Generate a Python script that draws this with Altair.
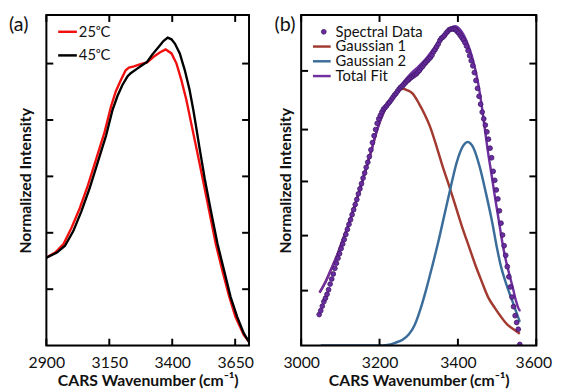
import altair as alt
import pandas as pd

# ---------------- Panel (a) data ----------------
A_WN_25 = [2900, 2935, 2968, 3000, 3033, 3065, 3098, 3131, 3157, 3176, 3196, 3215, 3228, 3248,
           3274, 3300, 3326, 3352, 3374, 3397, 3417, 3436, 3456, 3476, 3498, 3521, 3547, 3573,
           3599, 3625, 3651, 3684, 3704]
A_INT_25 = [1.56, 1.65, 1.80, 2.09, 2.44, 2.84, 3.31, 3.78, 4.24, 4.51, 4.71, 4.88, 4.93, 4.95,
            4.99, 5.02, 5.12, 5.20, 5.25, 5.18, 5.00, 4.71, 4.36, 3.93, 3.46, 2.96, 2.38, 1.80,
            1.33, 0.89, 0.51, 0.19, 0.07]
A_WN_45 = [2900, 2942, 2974, 3007, 3039, 3072, 3104, 3137, 3163, 3182, 3202, 3222, 3235, 3261,
           3280, 3300, 3319, 3345, 3365, 3382, 3397, 3411, 3430, 3450, 3469, 3484, 3496, 3507,
           3529, 3554, 3580, 3606, 3632, 3658, 3684, 3704]
A_INT_45 = [1.56, 1.65, 1.77, 2.03, 2.38, 2.79, 3.25, 3.72, 4.18, 4.42, 4.62, 4.77, 4.83, 4.91,
            4.97, 5.03, 5.15, 5.29, 5.40, 5.46, 5.43, 5.35, 5.18, 4.88, 4.53, 4.17, 3.85, 3.54,
            2.96, 2.38, 1.80, 1.33, 0.86, 0.51, 0.22, 0.07]
A_XTICKS = [2900, 3150, 3400, 3650]
A_XDOMAIN = [2900, 3705]
A_LEGEND = ["25ᵒC", "45ᵒC"]

# ---------------- Panel (b) data ----------------
B_DOT_WN = list(range(3046, 3559, 4))
B_DOT_INT = [0.55, 0.62, 0.70, 0.78, 0.84, 0.91, 0.99, 1.09, 1.18, 1.27,
             1.37, 1.46, 1.55, 1.63, 1.72, 1.80, 1.88, 1.97, 2.06, 2.15,
             2.23, 2.32, 2.41, 2.50, 2.59, 2.69, 2.78, 2.87, 2.97, 3.06,
             3.16, 3.25, 3.35, 3.47, 3.60, 3.72, 3.83, 3.94, 4.02, 4.08,
             4.14, 4.19, 4.22, 4.25, 4.29, 4.32, 4.36, 4.40, 4.44, 4.47,
             4.51, 4.55, 4.58, 4.60, 4.63, 4.66, 4.69, 4.71, 4.74, 4.76,
             4.78, 4.80, 4.82, 4.85, 4.88, 4.92, 4.95, 4.99, 5.02, 5.05,
             5.08, 5.11, 5.15, 5.21, 5.25, 5.30, 5.35, 5.41, 5.45, 5.47,
             5.50, 5.54, 5.57, 5.60, 5.61, 5.62, 5.61, 5.60, 5.57, 5.54,
             5.50, 5.46, 5.42, 5.37, 5.31, 5.23, 5.14, 5.05, 4.96, 4.84,
             4.70, 4.56, 4.42, 4.28, 4.14, 4.02, 3.91, 3.79, 3.66, 3.50,
             3.33, 3.09, 2.93, 2.76, 2.60, 2.39, 2.17, 1.96, 1.77, 1.60,
             1.40, 1.22, 1.04, 0.86, 0.69, 0.53, 0.41, 0.29, 0.02]
B_FIT_WN = [3047, 3060, 3075, 3090, 3105, 3120, 3135, 3150, 3165, 3180, 3195, 3210, 3225, 3240,
            3260, 3280, 3300, 3320, 3340, 3360, 3375, 3385, 3393, 3406, 3422, 3439, 3452, 3460,
            3469, 3477, 3485, 3494, 3502, 3510, 3519, 3531, 3540, 3548, 3557, 3560]
B_FIT_INT = [0.94, 1.10, 1.33, 1.57, 1.85, 2.13, 2.44, 2.77, 3.12, 3.48, 3.85, 4.13, 4.33, 4.47,
             4.66, 4.82, 4.95, 5.10, 5.28, 5.47, 5.58, 5.64, 5.66, 5.60, 5.40, 5.05, 4.64, 4.29,
             3.83, 3.42, 3.07, 2.66, 2.32, 1.97, 1.62, 1.27, 1.03, 0.80, 0.63, 0.62]
B_G1_WN = [3047, 3060, 3075, 3090, 3105, 3120, 3135, 3150, 3165, 3180, 3195, 3210, 3225, 3240,
           3250, 3259, 3270, 3284, 3300, 3315, 3330, 3345, 3360, 3380, 3395, 3410, 3430, 3445,
           3460, 3477, 3495, 3510, 3525, 3544, 3558]
B_G1_INT = [0.94, 1.10, 1.33, 1.57, 1.85, 2.13, 2.44, 2.77, 3.12, 3.48, 3.85, 4.13, 4.31, 4.45,
            4.52, 4.555, 4.53, 4.47, 4.30, 4.10, 3.86, 3.54, 3.20, 2.78, 2.45, 2.12, 1.72, 1.42,
            1.15, 0.86, 0.66, 0.51, 0.38, 0.28, 0.21]
B_G2_WN = [3050, 3100, 3150, 3200, 3220, 3240, 3260, 3275, 3290, 3305, 3320, 3335, 3350, 3365,
           3380, 3397, 3410, 3425, 3440, 3456, 3472, 3488, 3500, 3510, 3522, 3540, 3558]
B_G2_INT = [0.0, 0.0, 0.0, 0.0, 0.01, 0.05, 0.11, 0.20, 0.37, 0.66, 1.02, 1.42, 1.84, 2.30,
            2.76, 3.25, 3.50, 3.61, 3.50, 3.16, 2.69, 2.17, 1.72, 1.40, 1.12, 0.77, 0.42]
B_XTICKS = [3000, 3200, 3400, 3600]
B_XDOMAIN = [3000, 3600]
B_LEGEND = ["Spectral Data", "Gaussian 1", "Gaussian 2", "Total Fit"]

Y_TICKS = [1, 2, 3, 4, 5]
B_LEFT_YTICKS = [0.975, 1.95, 2.91, 3.83, 4.87]
Y_DOMAIN = [0, 5.86]

FONT = "Lato"
TXT = "#111111"
RED = "#f01010"
BROWN = "#a23a30"
BLUE = "#3b6d9a"
PURPLE = "#7030a0"
DOT_FILL = "#6a2ca0"
DOT_STROKE = "#3e1766"

H = 336
WA = 206
WB = 239
TL = 7  # tick length


def xaxis(values, offset_expr=None):
    kw = {}
    if offset_expr is not None:
        kw["labelOffset"] = {"expr": offset_expr}
    return alt.Axis(values=values, labelFlush=False, ticks=False, domain=False, grid=False,
                    labelFont=FONT, labelFontSize=16, labelColor=TXT, labelPadding=9,
                    title="CARS Wavenumber (cm⁻¹)", titleFont=FONT, titleFontSize=16,
                    titleFontWeight="bold", titleColor=TXT, titlePadding=3, format="d", **kw)


def yaxis(pad):
    return alt.Axis(labels=False, ticks=False, domain=False, grid=False,
                    title="Normalized Intensity", titleFont=FONT, titleFontSize=16,
                    titleFontWeight="bold", titleColor=TXT, titlePadding=pad)


def build_panel(series, xticks, left_y, right_y, xscale, yscale, width, ypad, legend, label,
                label_x, offset_expr=None):
    ax = xaxis(xticks, offset_expr)
    ay = yaxis(ypad)
    X = lambda f: alt.X(f, scale=xscale, axis=ax)
    Y = lambda f: alt.Y(f, scale=yscale, axis=ay)
    layers = []
    for kind, df, style in series:
        if kind == "line":
            m = alt.Chart(df).mark_line(clip=True, **style)
        else:
            m = alt.Chart(df).mark_circle(clip=True, opacity=1, **style)
        layers.append(m.encode(x=X("wn:Q"), y=Y("val:Q")))
    # frame
    frame_df = pd.DataFrame({"k": [0]})
    layers.append(alt.Chart(frame_df).mark_rect(fill=None, stroke="black", strokeWidth=2).encode(
        x=alt.value(0), x2=alt.value(width), y=alt.value(0), y2=alt.value(H)))
    # inward ticks
    dfx = pd.DataFrame({"v": xticks})
    dyl = pd.DataFrame({"v": left_y})
    dyr = pd.DataFrame({"v": right_y})
    sty = dict(color="black", strokeWidth=2)
    layers.append(alt.Chart(dfx).mark_rule(**sty).encode(x=X("v:Q"), y=alt.value(H - TL), y2=alt.value(H)))
    layers.append(alt.Chart(dfx).mark_rule(**sty).encode(x=X("v:Q"), y=alt.value(0), y2=alt.value(TL)))
    layers.append(alt.Chart(dyl).mark_rule(**sty).encode(y=Y("v:Q"), x=alt.value(0), x2=alt.value(TL)))
    layers.append(alt.Chart(dyr).mark_rule(**sty).encode(y=Y("v:Q"), x=alt.value(width - TL), x2=alt.value(width)))
    # legend
    for kind, text, color, y, x0, x1, xt in legend:
        ldf = pd.DataFrame({"label": [text]})
        if kind == "line":
            layers.append(alt.Chart(ldf).mark_rule(color=color, strokeWidth=2.5).encode(
                x=alt.value(x0), x2=alt.value(x1), y=alt.value(y)))
        else:
            layers.append(alt.Chart(ldf).mark_circle(size=24, color=DOT_FILL, stroke=DOT_STROKE,
                                                     strokeWidth=0.8, opacity=1).encode(
                x=alt.value(x0), y=alt.value(y)))
        layers.append(alt.Chart(ldf).mark_text(align="left", baseline="middle", font=FONT, fontSize=15,
                                               color=TXT).encode(text="label:N", x=alt.value(xt), y=alt.value(y)))
    ldf = pd.DataFrame({"label": [label]})
    layers.append(alt.Chart(ldf).mark_text(align="left", baseline="middle", font=FONT, fontSize=20,
                                           color=TXT).encode(text="label:N", x=alt.value(label_x), y=alt.value(10)))
    return alt.layer(*layers).properties(width=width, height=H)


ys = alt.Scale(domain=Y_DOMAIN, nice=False, zero=False)

# ---------------- Panel (a) ----------------
xs_a = alt.Scale(domain=A_XDOMAIN, nice=False, zero=False)
df25 = pd.DataFrame({"wn": A_WN_25, "val": A_INT_25})
df45 = pd.DataFrame({"wn": A_WN_45, "val": A_INT_45})
panel_a = build_panel(
    [("line", df25, dict(color=RED, strokeWidth=2.4)),
     ("line", df45, dict(color="black", strokeWidth=2.4))],
    A_XTICKS, Y_TICKS, Y_TICKS, xs_a, ys, WA, 13,
    [("line", A_LEGEND[0], RED, 17, 12, 31, 33),
     ("line", A_LEGEND[1], "black", 41, 12, 31, 33)],
    "(a)", -38)

# ---------------- Panel (b) ----------------
xs_b = alt.Scale(domain=B_XDOMAIN, nice=False, zero=False)
dfdots = pd.DataFrame({"wn": B_DOT_WN, "val": B_DOT_INT})
dffit = pd.DataFrame({"wn": B_FIT_WN, "val": B_FIT_INT})
dfg1 = pd.DataFrame({"wn": B_G1_WN, "val": B_G1_INT})
dfg2 = pd.DataFrame({"wn": B_G2_WN, "val": B_G2_INT})
panel_b = build_panel(
    [("line", dfg1, dict(color=BROWN, strokeWidth=2.5, interpolate="monotone")),
     ("line", dfg2, dict(color=BLUE, strokeWidth=2.5, interpolate="monotone")),
     ("line", dffit, dict(color=PURPLE, strokeWidth=2.5, interpolate="monotone")),
     ("dot", dfdots, dict(size=24, color=DOT_FILL, stroke=DOT_STROKE, strokeWidth=0.8))],
    B_XTICKS, B_LEFT_YTICKS, Y_TICKS, xs_b, ys, WB, 8,
    [("dot", B_LEGEND[0], DOT_FILL, 17, 23, 23, 35),
     ("line", B_LEGEND[1], BROWN, 32, 12, 30, 35),
     ("line", B_LEGEND[2], BLUE, 47, 12, 30, 35),
     ("line", B_LEGEND[3], PURPLE, 62, 12, 30, 35)],
    "(b)", -27, offset_expr="datum.value == 3600 ? -3 : 0")

chart = alt.hconcat(panel_a, panel_b, spacing=53, bounds="flush").properties(
    padding={"left": 0, "top": 2, "right": 0, "bottom": 0}
).configure_view(stroke=None).configure(background="white")

chart.save("out.html", embed_options={"renderer": "svg", "actions": False})
